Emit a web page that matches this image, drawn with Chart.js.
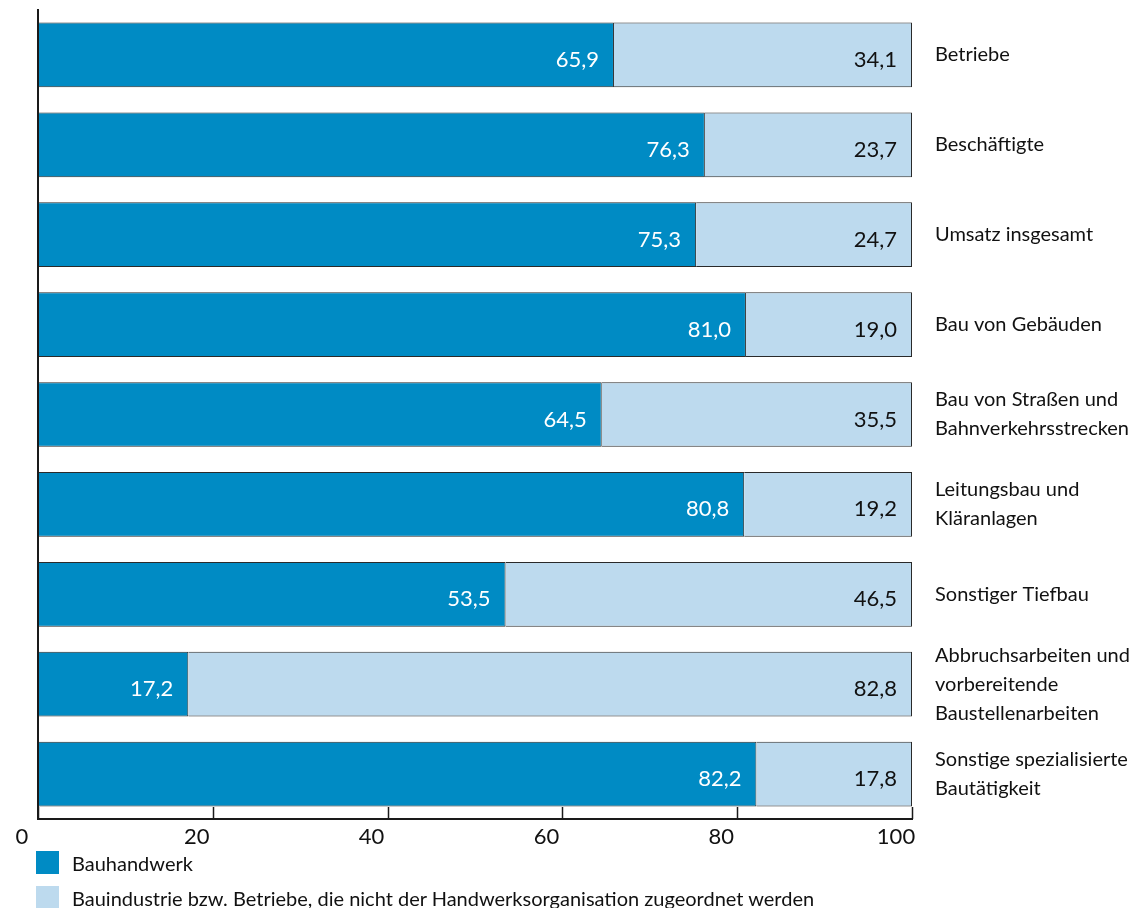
<!DOCTYPE html>
<html lang="de">
<head>
<meta charset="utf-8">
<title>Bauhandwerk und Bauindustrie</title>
<script src="https://cdn.jsdelivr.net/npm/chart.js@4.4.1/dist/chart.umd.min.js"></script>
<style>
  html, body { margin: 0; padding: 0; background: #fff; overflow: hidden; }
  #wrap { position: relative; width: 1139px; height: 908px; }
  #legend { position: absolute; left: 36px; top: 845px; font-family: Lato, sans-serif; font-size: 20px; color: #111; }
  .leg-item { display: flex; align-items: center; height: 35px; }
  .leg-box { width: 23px; height: 23px; margin-right: 13px; flex: none; }
</style>
</head>
<body>
<div id="wrap">
  <canvas id="chart" width="1139" height="908"></canvas>
  <div id="legend"></div>
</div>
<script>
// Categories (multi-line labels shown right of the bars)
const categories = [
    ['Betriebe'],
    ['Beschäftigte'],
    ['Umsatz insgesamt'],
    ['Bau von Gebäuden'],
    ['Bau von Straßen und', 'Bahnverkehrsstrecken'],
    ['Leitungsbau und', 'Kläranlagen'],
    ['Sonstiger Tiefbau'],
    ['Abbruchsarbeiten und', 'vorbereitende', 'Baustellenarbeiten'],
    ['Sonstige spezialisierte', 'Bautätigkeit']
];

// Shares in percent
const bauhandwerk = [65.9, 76.3, 75.3, 81.0, 64.5, 80.8, 53.5, 17.2, 82.2];
const bauindustrie = [34.1, 23.7, 24.7, 19.0, 35.5, 19.2, 46.5, 82.8, 17.8];

const seriesNames = [
    'Bauhandwerk',
    'Bauindustrie bzw. Betriebe, die nicht der Handwerksorganisation zugeordnet werden'
];

// x axis ticks
const xTicks = [0, 20, 40, 60, 80, 100];

const darkBlue = '#008bc4';
const lightBlue = '#bddaee';
const fontFamily = 'Lato, sans-serif';

function fmt(v) {
    return v.toFixed(1).replace('.', ',');
}

// value labels at the right end of each segment
const valueLabels = {
    id: 'valueLabels',
    afterDatasetsDraw(chart) {
        const ctx = chart.ctx;
        ctx.save();
        ctx.font = '22px ' + fontFamily;
        ctx.textAlign = 'right';
        ctx.textBaseline = 'alphabetic';
        chart.data.datasets.forEach((ds, di) => {
            const meta = chart.getDatasetMeta(di);
            ctx.fillStyle = di === 0 ? '#ffffff' : '#111111';
            meta.data.forEach((bar, i) => {
                ctx.fillText(fmt(ds.data[i]), bar.x - 15, bar.y + 12);
            });
        });
        ctx.restore();
    }
};

// left axis line and upward tick marks on the bottom axis
const axisLines = {
    id: 'axisLines',
    afterDraw(chart) {
        const ctx = chart.ctx;
        const area = chart.chartArea;
        const xScale = chart.scales.x;
        ctx.save();
        ctx.strokeStyle = '#1a1a1a';
        ctx.lineWidth = 2;
        ctx.beginPath();
        ctx.moveTo(area.left, area.top - 1);
        ctx.lineTo(area.left, area.bottom);
        ctx.stroke();
        ctx.lineWidth = 1.5;
        xScale.ticks.forEach(t => {
            const x = Math.round(xScale.getPixelForValue(t.value)) + 0.5;
            ctx.beginPath();
            ctx.moveTo(x, area.bottom);
            ctx.lineTo(x, area.bottom - 12);
            ctx.stroke();
        });
        ctx.restore();
    }
};

const ctx = document.getElementById('chart').getContext('2d');
const chart = new Chart(ctx, {
    type: 'bar',
    data: {
        labels: categories,
        datasets: [{
            label: seriesNames[0],
            data: bauhandwerk,
            backgroundColor: darkBlue,
            borderColor: '#2a2a2a',
            borderWidth: 1,
            barPercentage: 0.72,
            categoryPercentage: 1.0
        }, {
            label: seriesNames[1],
            data: bauindustrie,
            backgroundColor: lightBlue,
            borderColor: '#2a2a2a',
            borderWidth: 1,
            barPercentage: 0.72,
            categoryPercentage: 1.0
        }]
    },
    options: {
        indexAxis: 'y',
        responsive: false,
        animation: false,
        layout: {
            padding: { left: 38, top: 10, right: 0, bottom: 61 }
        },
        scales: {
            x: {
                stacked: true,
                min: 0,
                max: 100,
                afterBuildTicks(scale) {
                    scale.ticks = xTicks.map(v => ({ value: v }));
                },
                afterFit(scale) {
                    scale.height = 28;
                    scale.paddingLeft = 0;
                    scale.paddingRight = 0;
                },
                grid: { display: false, drawTicks: false },
                border: { display: true, color: '#1a1a1a', width: 2 },
                ticks: {
                    labelOffset: -16,
                    padding: 5,
                    color: '#111',
                    font: { family: fontFamily, size: 22 }
                }
            },
            y: {
                stacked: true,
                position: 'right',
                afterFit(scale) {
                    scale.width = 227;
                    scale.paddingTop = 0;
                    scale.paddingBottom = 0;
                },
                grid: { display: false, drawTicks: false },
                border: { display: false },
                ticks: {
                    autoSkip: false,
                    padding: 23,
                    color: '#111',
                    font: { family: fontFamily, size: 20, lineHeight: 1.45 }
                }
            }
        },
        plugins: {
            legend: { display: false },
            tooltip: { enabled: false }
        }
    },
    plugins: [valueLabels, axisLines]
});

// legend below the chart, one entry per line
const legendEl = document.getElementById('legend');
legendEl.innerHTML = chart.data.datasets.map(ds => `
    <div class="leg-item">
        <span class="leg-box" style="background:${ds.backgroundColor}"></span>
        <span>${ds.label}</span>
    </div>
`).join('');
</script>
</body>
</html>
